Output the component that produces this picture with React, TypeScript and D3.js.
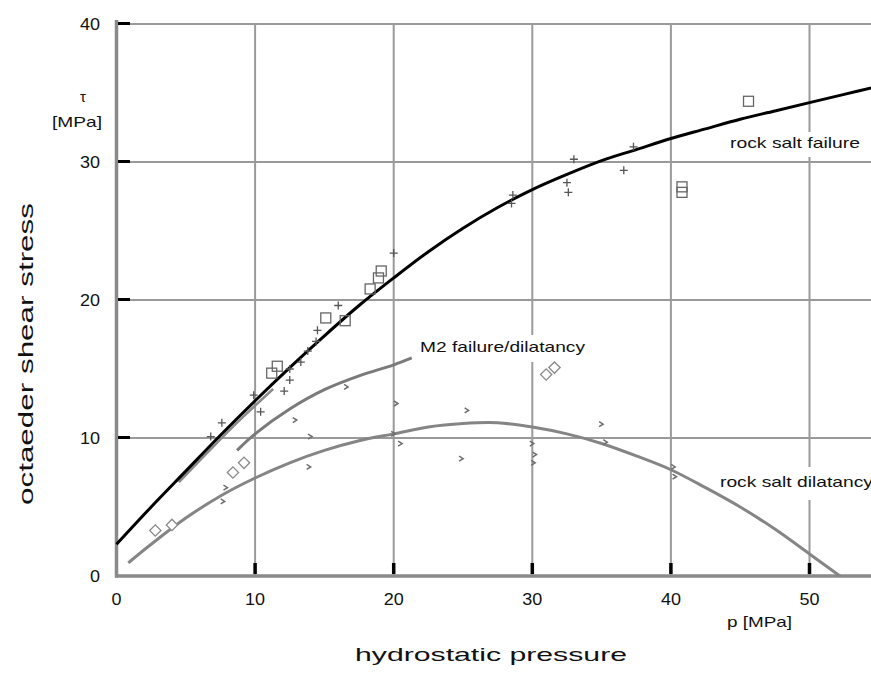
import React from "react";
import * as d3 from "d3";

// ---------- data ----------
const xTicks = [0, 10, 20, 30, 40, 50];
const yTicks = [0, 10, 20, 30, 40];

// rock salt failure fit curve
const failureP = [0, 2.5, 5, 7.5, 10, 12.5, 15, 17.5, 20, 22.5, 25, 27.5, 30, 32.5, 35, 37.5, 40, 42.5, 45, 47.5, 50, 52.5, 55];
const failureTau = [2.3, 5.0, 7.6, 10.2, 12.7, 15.1, 17.4, 19.6, 21.6, 23.5, 25.2, 26.7, 28.0, 29.1, 30.1, 30.9, 31.7, 32.4, 33.1, 33.7, 34.3, 34.9, 35.5];

// rock salt dilatancy fit curve
const dilatP = [0.85, 2.5, 5, 7.5, 10, 12.5, 15, 17.5, 20, 22.5, 25, 27.5, 30, 32.5, 35, 37.5, 40, 42.5, 45, 47.5, 50, 52.2];
const dilatTau = [0.95, 2.3, 4.2, 5.8, 7.1, 8.2, 9.1, 9.8, 10.3, 10.8, 11.05, 11.1, 10.8, 10.3, 9.6, 8.7, 7.7, 6.4, 5.0, 3.4, 1.6, 0];

// M2 failure/dilatancy curve
const m2P = [8.7, 10, 12.5, 15, 17.5, 20, 21.3];
const m2Tau = [9.1, 10.3, 12.1, 13.5, 14.5, 15.3, 15.8];

// M2 failure (low pressure) line beside the rock salt failure curve
const m2LowP = [4.5, 7, 9, 11.3];
const m2LowTau = [6.8, 9.4, 11.4, 13.55];

// rock salt failure data (squares)
const squareP = [11.2, 11.6, 15.1, 16.5, 18.3, 18.9, 19.1, 45.6, 40.8, 40.8];
const squareTau = [14.7, 15.2, 18.7, 18.5, 20.8, 21.6, 22.1, 34.4, 28.2, 27.8];

// rock salt failure data (crosses)
const crossP = [6.8, 7.6, 9.9, 10.4, 12.1, 12.5, 12.5, 13.3, 13.8, 14.4, 14.5, 16.0, 20.0, 28.5, 28.6, 32.5, 32.6, 33.0, 36.6, 37.3];
const crossTau = [10.1, 11.1, 13.1, 11.9, 13.4, 14.2, 15.0, 15.5, 16.3, 17.0, 17.8, 19.6, 23.4, 27.0, 27.6, 28.5, 27.8, 30.2, 29.4, 31.1];

// M2 data (diamonds)
const diamondP = [2.8, 4.0, 8.4, 9.2, 31.0, 31.6];
const diamondTau = [3.3, 3.7, 7.5, 8.2, 14.6, 15.1];

// dilatancy data (small marks)
const dilatDataP = [7.7, 7.9, 12.9, 13.9, 14.0, 16.6, 20.0, 20.5, 20.2, 24.9, 25.3, 30.0, 30.2, 30.1, 35.0, 35.3, 40.2, 40.3];
const dilatDataTau = [5.4, 6.4, 11.3, 7.9, 10.1, 13.7, 10.3, 9.6, 12.5, 8.5, 12.0, 9.6, 8.8, 8.2, 11.0, 9.7, 7.9, 7.2];

// ---------- layout ----------
const W = 871;
const H = 675;
const x = d3.scaleLinear().domain([0, 50]).range([116.5, 809.5]);
const y = d3.scaleLinear().domain([0, 40]).range([576, 24]);
const X_END = W;

const FONT = "'Liberation Sans', Arial, sans-serif";

const zip = (a: number[], b: number[]) => a.map((v, i) => [v, b[i]] as [number, number]);
const line = d3
  .line<[number, number]>()
  .x((d) => x(d[0]))
  .y((d) => y(d[1]))
  .curve(d3.curveCatmullRom.alpha(0.5));

export default function App() {
  const gridColor = "#9a9a9a";
  const axisColor = "#8a8a8a";
  return (
    <svg
      width={W}
      height={H}
      style={{ position: "absolute", left: 0, top: 0, display: "block", background: "#fff" }}
      fontFamily={FONT}
    >
      <rect x={0} y={0} width={W} height={H} fill="#fff" />
      {/* grid */}
      {xTicks.filter((t) => t > 0).map((t) => (
        <line key={"gx" + t} x1={x(t)} x2={x(t)} y1={y(40)} y2={y(0)} stroke={gridColor} strokeWidth={2} />
      ))}
      {yTicks.filter((t) => t > 0).map((t) => (
        <line key={"gy" + t} x1={x(0)} x2={X_END} y1={y(t)} y2={y(t)} stroke={gridColor} strokeWidth={2} />
      ))}

      {/* label backgrounds */}
      <rect x={726} y={132} width={138} height={25} fill="#fff" />
      <rect x={416} y={335} width={173} height={27} fill="#fff" />
      <rect x={716} y={467} width={160} height={33} fill="#fff" />

      {/* axes */}
      <line x1={x(0)} x2={x(0)} y1={y(40) - 4} y2={y(0) + 1.5} stroke={axisColor} strokeWidth={3.5} />
      <line x1={x(0) - 1.5} x2={X_END} y1={y(0)} y2={y(0)} stroke={axisColor} strokeWidth={3.5} />

      {/* ticks */}
      {yTicks.filter((t) => t > 0).map((t) => (
        <rect key={"ty" + t} x={x(0) + 1.5} y={y(t) - 2} width={12} height={3} fill="#000" />
      ))}
      {xTicks.filter((t) => t > 0).map((t) => (
        <rect key={"tx" + t} x={x(t) - 1.75} y={y(0) - 13} width={3.5} height={11} fill="#000" />
      ))}

      {/* tick labels */}
      {yTicks.map((t) => (
        <text
          key={"ly" + t}
          x={100}
          y={y(t) + 6}
          textAnchor="end"
          fontSize={16}
          fill="#111"
          textLength={String(t).length * 10}
          lengthAdjust="spacingAndGlyphs"
        >
          {t}
        </text>
      ))}
      {xTicks.map((t) => (
        <text
          key={"lx" + t}
          x={x(t)}
          y={605}
          textAnchor="middle"
          fontSize={16}
          fill="#111"
          textLength={String(t).length * 10}
          lengthAdjust="spacingAndGlyphs"
        >
          {t}
        </text>
      ))}

      {/* curves */}
      <path d={line(zip(dilatP, dilatTau)) || ""} fill="none" stroke="#858585" strokeWidth={3} />
      <path d={line(zip(m2P, m2Tau)) || ""} fill="none" stroke="#7a7a7a" strokeWidth={3} />
      <path d={line(zip(m2LowP, m2LowTau)) || ""} fill="none" stroke="#8a8a8a" strokeWidth={2.5} />
      <path d={line(zip(failureP, failureTau)) || ""} fill="none" stroke="#000" strokeWidth={3} />

      {/* markers */}
      {zip(squareP, squareTau).map((d, i) => (
        <rect
          key={"sq" + i}
          x={x(d[0]) - 5}
          y={y(d[1]) - 5}
          width={10}
          height={10}
          fill="none"
          stroke="#666"
          strokeWidth={1.3}
        />
      ))}
      {zip(diamondP, diamondTau).map((d, i) => (
        <rect
          key={"dm" + i}
          x={-4}
          y={-4}
          width={8}
          height={8}
          transform={`translate(${x(d[0])},${y(d[1])}) rotate(45)`}
          fill="#fff"
          stroke="#8a8a8a"
          strokeWidth={1.3}
        />
      ))}
      {zip(crossP, crossTau).map((d, i) => (
        <path
          key={"cr" + i}
          d={`M${x(d[0]) - 4},${y(d[1])}H${x(d[0]) + 4}M${x(d[0])},${y(d[1]) - 4}V${y(d[1]) + 4}`}
          stroke="#555"
          strokeWidth={1.3}
          fill="none"
        />
      ))}
      {zip(dilatDataP, dilatDataTau).map((d, i) => (
        <path
          key={"dd" + i}
          d={`M${x(d[0]) - 2.5},${y(d[1]) - 2.5}L${x(d[0]) + 1.5},${y(d[1])}L${x(d[0]) - 2.5},${y(d[1]) + 2.5}`}
          stroke="#6e6e6e"
          strokeWidth={1.5}
          fill="none"
        />
      ))}

      {/* curve labels */}
      <text x={730} y={147.5} fontSize={15} fill="#111" textLength={130} lengthAdjust="spacingAndGlyphs">
        rock salt failure
      </text>
      <text x={420} y={351.5} fontSize={15} fill="#111" textLength={165} lengthAdjust="spacingAndGlyphs">
        M2 failure/dilatancy
      </text>
      <text x={720} y={486.5} fontSize={15} fill="#111" textLength={153} lengthAdjust="spacingAndGlyphs">
        rock salt dilatancy
      </text>

      {/* unit labels */}
      <text x={83} y={102} textAnchor="middle" fontSize={15} fill="#111">
        τ
      </text>
      <text x={52} y={127} fontSize={15} fill="#111" textLength={50} lengthAdjust="spacingAndGlyphs">
        [MPa]
      </text>
      <text x={727} y={626.5} fontSize={15} fill="#111" textLength={65} lengthAdjust="spacingAndGlyphs">
        p [MPa]
      </text>

      {/* axis titles */}
      <text
        x={491}
        y={661}
        textAnchor="middle"
        fontSize={19}
        fill="#111"
        textLength={272}
        lengthAdjust="spacingAndGlyphs"
      >
        hydrostatic pressure
      </text>
      <text
        x={33}
        y={354}
        textAnchor="middle"
        fontSize={21}
        fill="#111"
        transform="rotate(-90, 33, 354)"
        textLength={302}
        lengthAdjust="spacingAndGlyphs"
      >
        octaeder shear stress
      </text>
    </svg>
  );
}
